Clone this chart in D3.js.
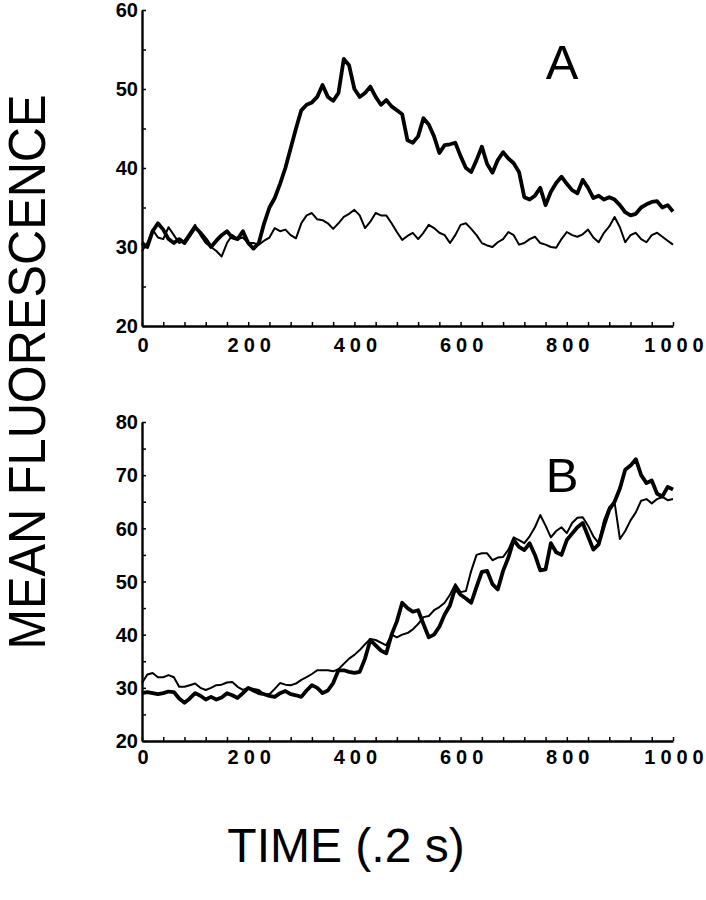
<!DOCTYPE html>
<html>
<head>
<meta charset="utf-8">
<script src="https://cdn.jsdelivr.net/npm/d3@7"></script>
<style>
  body { margin: 0; background: #fff; }
  svg { display: block; font-family: 'Liberation Sans', Arial, sans-serif; }
</style>
</head>
<body>
<script>
var timeStep = 10
var xTickLabels = [0, 200, 400, 600, 800, 1000]
var yTicksA = [20, 30, 40, 50, 60]
var yTicksB = [20, 30, 40, 50, 60, 70, 80]

// panel A, thick trace (responding cell)
var seriesA1 = [30.5, 30.0, 32.0, 33.0, 32.2, 31.0, 30.5, 31.0, 30.5, 31.5,
  32.5, 31.8, 31.0, 30.0, 30.8, 31.5, 32.0, 31.2, 31.0, 32.0,
  30.5, 29.8, 30.5, 33.0, 35.0, 36.2, 38.0, 40.0, 42.5, 45.0,
  47.3, 48.0, 48.3, 49.0, 50.5, 49.0, 48.5, 49.5, 53.8, 53.0,
  50.0, 49.0, 49.5, 50.3, 49.0, 48.0, 48.6, 47.8, 47.3, 46.8,
  43.5, 43.2, 44.0, 46.3, 45.5, 44.0, 41.9, 42.9, 43.0, 43.2,
  41.5, 40.0, 39.5, 41.0, 42.7, 40.5, 39.4, 41.0, 42.0, 41.2,
  40.6, 39.5, 36.3, 36.0, 36.5, 37.5, 35.3, 37.0, 38.1, 38.9,
  38.0, 37.2, 36.8, 38.5, 37.5, 36.2, 36.5, 36.0, 36.3, 36.0,
  35.3, 34.4, 34.0, 34.2, 35.0, 35.4, 35.7, 35.8, 35.0, 35.3, 34.5]

// panel A, thin trace
var seriesA2 = [29.5, 30.5, 32.2, 31.2, 31.0, 32.5, 31.5, 30.5, 30.8, 31.8,
  32.8, 31.5, 30.5, 30.0, 29.5, 28.8, 30.5, 31.5, 31.0, 31.2,
  30.5, 30.5, 30.3, 30.8, 31.2, 32.4, 32.0, 32.2, 31.5, 31.1,
  33.0, 34.0, 34.3, 33.5, 33.4, 33.0, 32.3, 33.0, 33.8, 34.2,
  34.7, 34.0, 32.4, 33.2, 34.3, 34.0, 34.0, 33.0, 31.9, 30.9,
  31.4, 31.8, 31.0, 31.8, 32.8, 32.4, 31.8, 31.5, 30.5, 31.5,
  32.8, 33.0, 32.3, 31.5, 30.5, 30.2, 30.0, 30.6, 31.0, 31.9,
  31.5, 30.3, 30.5, 31.0, 31.3, 30.5, 30.3, 30.0, 29.9, 31.0,
  31.9, 31.5, 31.3, 31.6, 32.2, 31.2, 30.6, 31.8, 32.6, 33.8,
  32.5, 30.6, 31.5, 31.8, 31.0, 30.6, 31.5, 31.8, 31.3, 30.8, 30.3]

// panel B, thick trace
var seriesB1 = [29.0, 29.2, 29.0, 28.8, 29.0, 29.3, 29.2, 28.0, 27.2, 28.0,
  29.0, 28.5, 27.8, 28.3, 27.8, 28.2, 29.0, 28.6, 28.1, 29.0,
  30.0, 29.5, 29.0, 28.8, 28.5, 28.3, 29.0, 29.4, 28.8, 28.6,
  28.3, 29.5, 30.5, 30.0, 29.0, 29.5, 30.9, 33.3, 33.3, 33.0,
  32.8, 33.0, 35.5, 39.0, 38.0, 37.0, 36.5, 40.0, 42.5, 46.0,
  45.0, 44.3, 44.6, 42.0, 39.5, 40.0, 41.5, 43.8, 45.5, 48.8,
  47.5, 46.8, 46.0, 49.0, 51.8, 52.0, 49.5, 48.5, 52.0, 54.5,
  57.8, 56.5, 55.9, 57.2, 55.0, 52.1, 52.3, 57.2, 55.5, 55.0,
  57.8, 59.0, 60.2, 61.0, 58.5, 56.0, 57.0, 60.5, 63.5, 65.0,
  67.5, 71.0, 71.8, 73.0, 70.0, 68.5, 69.0, 66.5, 66.0, 67.8, 67.3]

// panel B, thin trace
var seriesB2 = [30.9, 32.5, 32.8, 32.0, 32.0, 32.4, 32.0, 30.2, 30.2, 30.5,
  30.8, 30.0, 29.6, 30.0, 30.5, 30.6, 31.0, 31.1, 30.2, 29.6,
  30.0, 29.8, 29.6, 28.8, 28.8, 29.8, 30.9, 30.6, 30.5, 30.8,
  31.5, 32.0, 32.6, 33.3, 33.3, 33.3, 33.1, 33.5, 34.5, 35.5,
  36.2, 37.1, 38.2, 39.2, 39.0, 38.5, 38.0, 40.0, 39.5, 40.0,
  40.3, 41.0, 42.0, 43.3, 43.5, 44.6, 45.2, 46.0, 47.5, 49.5,
  48.0, 48.2, 52.0, 55.0, 55.3, 55.3, 54.0, 54.5, 54.6, 56.0,
  58.3, 57.8, 57.2, 58.5, 60.2, 62.5, 60.5, 58.3, 59.5, 60.2,
  59.1, 61.0, 62.0, 62.1, 60.5, 58.5, 57.2, 61.5, 64.0, 64.9,
  58.0, 59.5, 61.5, 63.0, 65.2, 65.5, 64.7, 65.5, 65.9, 65.3, 65.5]

var width = 706
var height = 900
var labelSize = 20
var labelGap = 5

var svg = d3.select('body').append('svg')
  .attr('width', width)
  .attr('height', height)

var x = d3.scaleLinear().domain([0, 1000]).range([142, 673])

drawPanel({
  y: d3.scaleLinear().domain([20, 60]).range([326, 10]),
  yTicks: yTicksA,
  minorStep: 5,
  series: [seriesA2, seriesA1],
  letter: 'A',
  letterY: 79,
  labelY: 352
})

drawPanel({
  y: d3.scaleLinear().domain([20, 80]).range([741, 422]),
  yTicks: yTicksB,
  minorStep: 5,
  series: [seriesB2, seriesB1],
  letter: 'B',
  letterY: 492,
  labelY: 764
})

svg.append('text')
  .attr('transform', 'translate(45,372) rotate(-90)')
  .attr('text-anchor', 'middle')
  .attr('textLength', 555)
  .attr('lengthAdjust', 'spacingAndGlyphs')
  .style('font-size', '51px')
  .style('fill', '#000')
  .text('MEAN FLUORESCENCE')

svg.append('text')
  .attr('x', 346)
  .attr('y', 862)
  .attr('text-anchor', 'middle')
  .style('font-size', '48px')
  .style('fill', '#000')
  .text('TIME (.2 s)')

function drawPanel (p) {
  var y = p.y
  var g = svg.append('g')
  var y0 = y.range()[0]
  var yDom = y.domain()

  var line = d3.line()
    .x(function (d, i) { return x(i * timeStep) })
    .y(function (d) { return y(d) })

  g.selectAll('path.trace')
    .data(p.series)
    .enter().append('path')
    .attr('class', 'trace')
    .attr('d', line)
    .style('fill', 'none')
    .style('stroke', '#000')
    .style('stroke-linejoin', 'round')
    .style('stroke-width', function (d, i) { return i === 0 ? 2 : 3.8 })

  // minor ticks, pointing into the plot
  var xMinor = g.append('g')
    .attr('transform', 'translate(0,' + y0 + ')')
    .call(d3.axisBottom(x)
      .tickValues(d3.range(0, 1001, 40))
      .tickSizeInner(-4)
      .tickSizeOuter(0)
      .tickFormat(''))
  xMinor.select('.domain').style('stroke-width', 2.4)
  xMinor.selectAll('.tick line').style('stroke-width', 1.5)

  var yMinor = g.append('g')
    .attr('transform', 'translate(' + x(0) + ',0)')
    .call(d3.axisLeft(y)
      .tickValues(d3.range(yDom[0], yDom[1] + 1, p.minorStep))
      .tickSizeInner(-4)
      .tickSizeOuter(0)
      .tickFormat(''))
  yMinor.select('.domain').style('stroke-width', 2.4)
  yMinor.selectAll('.tick line').style('stroke-width', 1.5)

  // spaced-out x labels, spacing only between the digits
  g.append('g')
    .selectAll('text')
    .data(xTickLabels)
    .enter().append('text')
    .attr('x', function (d) { return x(d) + 1 })
    .attr('y', p.labelY)
    .attr('text-anchor', 'middle')
    .attr('textLength', function (d) {
      var n = String(d).length
      return n * labelSize * 0.556 + (n - 1) * labelGap
    })
    .attr('lengthAdjust', 'spacing')
    .style('font-size', labelSize + 'px')
    .style('font-weight', 'bold')
    .text(function (d) { return d })

  g.append('g')
    .selectAll('text')
    .data(p.yTicks)
    .enter().append('text')
    .attr('x', x(0) - 4)
    .attr('y', function (d) { return y(d) })
    .attr('dy', '0.36em')
    .attr('text-anchor', 'end')
    .style('font-size', labelSize + 'px')
    .style('font-weight', 'bold')
    .text(function (d) { return d })

  g.append('text')
    .attr('x', 562)
    .attr('y', p.letterY)
    .attr('text-anchor', 'middle')
    .style('font-size', '49px')
    .text(p.letter)
}
</script>
</body>
</html>
